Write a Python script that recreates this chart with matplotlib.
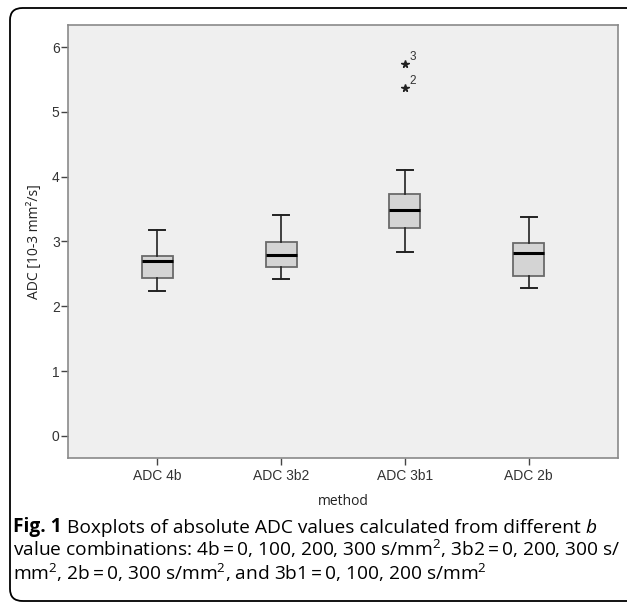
import matplotlib
matplotlib.use("Agg")
import matplotlib.pyplot as plt
from matplotlib.patches import FancyBboxPatch

# ---- data ----
categories = ["ADC 4b", "ADC 3b2", "ADC 3b1", "ADC 2b"]
whislo = [2.24, 2.42, 2.84, 2.29]
q1 = [2.43, 2.60, 3.21, 2.47]
med = [2.70, 2.79, 3.49, 2.82]
q3 = [2.77, 2.99, 3.73, 2.97]
whishi = [3.17, 3.41, 4.10, 3.38]
outlier_vals = [5.74, 5.37]
outlier_cat = [3, 3]
outlier_ids = ["3", "2"]
yticks = [0, 1, 2, 3, 4, 5, 6]

plt.rcParams["mathtext.fontset"] = "custom"
plt.rcParams["mathtext.rm"] = "Open Sans"
plt.rcParams["mathtext.it"] = "Open Sans:italic"

W, H = 627, 605
fig = plt.figure(figsize=(W / 100, H / 100), dpi=100)

# outer rounded frame
frame = FancyBboxPatch((10 / W, 4 / H), 700 / W, (H - 12) / H,
                       boxstyle="round,pad=0,rounding_size=0.02",
                       transform=fig.transFigure, fill=False,
                       edgecolor="black", linewidth=1.3)
fig.patches.append(frame)

ax = fig.add_axes([68 / W, 1 - 458 / H, (618 - 68) / W, (458 - 25) / H])
ax.set_facecolor("#efefef")

stats = []
for i in range(len(categories)):
    stats.append(dict(whislo=whislo[i], q1=q1[i], med=med[i], q3=q3[i],
                      whishi=whishi[i], fliers=[], label=categories[i]))

ax.bxp(stats, positions=range(1, len(categories) + 1), widths=0.25,
       patch_artist=True, showfliers=False,
       boxprops=dict(facecolor="#d4d4d4", edgecolor="#6a6a6a", linewidth=1.3),
       medianprops=dict(color="black", linewidth=2.2),
       whiskerprops=dict(color="#222222", linewidth=1.2),
       capprops=dict(color="#222222", linewidth=1.4),
       capwidths=0.13)

ax.plot(outlier_cat, outlier_vals, linestyle="none", marker="*",
        color="#222222", markersize=5.5)
for c, v, t in zip(outlier_cat, outlier_vals, outlier_ids):
    ax.annotate(t, (c, v), xytext=(3, 3), textcoords="offset points",
                fontsize=8.5, color="#333333", family="Liberation Sans")

ax.set_xlim(0.28, 4.72)
ax.set_ylim(-0.34, 6.34)
ax.set_yticks(yticks)
ax.set_xticks(range(1, len(categories) + 1))
ax.set_xticklabels(categories)
for s in ax.spines.values():
    s.set_color("#8a8a8a")
    s.set_linewidth(1.2)
ax.tick_params(axis="both", colors="#444444", labelcolor="#333333",
               length=5, width=1, labelsize=10)
for lab in ax.get_xticklabels() + ax.get_yticklabels():
    lab.set_family("Liberation Sans")
ax.tick_params(axis="y", pad=1)
ax.tick_params(axis="x", pad=3)

ax.set_ylabel("ADC [10-3 mm\u00b2/s]", family="Open Sans", fontsize=10,
              color="#222222", labelpad=7)
ax.set_xlabel("method", family="Open Sans", fontsize=10, color="#222222",
              labelpad=8)

# caption
fs = 13.8
x0 = 13 / W
eq = "\u2009=\u2009"
t1 = fig.text(x0, 1 - 532 / H, "Fig. 1", fontsize=fs, family="Open Sans",
              weight="bold", va="baseline")
t2 = plt.annotate(" Boxplots of absolute ADC values calculated from different ",
                  xy=(1, 0), xycoords=t1, va="bottom", fontsize=fs,
                  family="Open Sans", annotation_clip=False)
t3 = plt.annotate("b", xy=(1, 0), xycoords=t2, va="bottom", fontsize=fs,
                  family="Open Sans", style="italic", annotation_clip=False)
fig.text(x0, 1 - 556 / H,
         "value combinations: 4b" + eq + "0, 100, 200, 300 s/mm$^2$, 3b2" + eq
         + "0, 200, 300 s/",
         fontsize=fs, family="Open Sans", va="baseline")
fig.text(x0, 1 - 580 / H,
         "mm$^2$, 2b" + eq + "0, 300 s/mm$^2$, and 3b1" + eq
         + "0, 100, 200 s/mm$^2$",
         fontsize=fs, family="Open Sans", va="baseline")

fig.savefig("out.png", dpi=100)
